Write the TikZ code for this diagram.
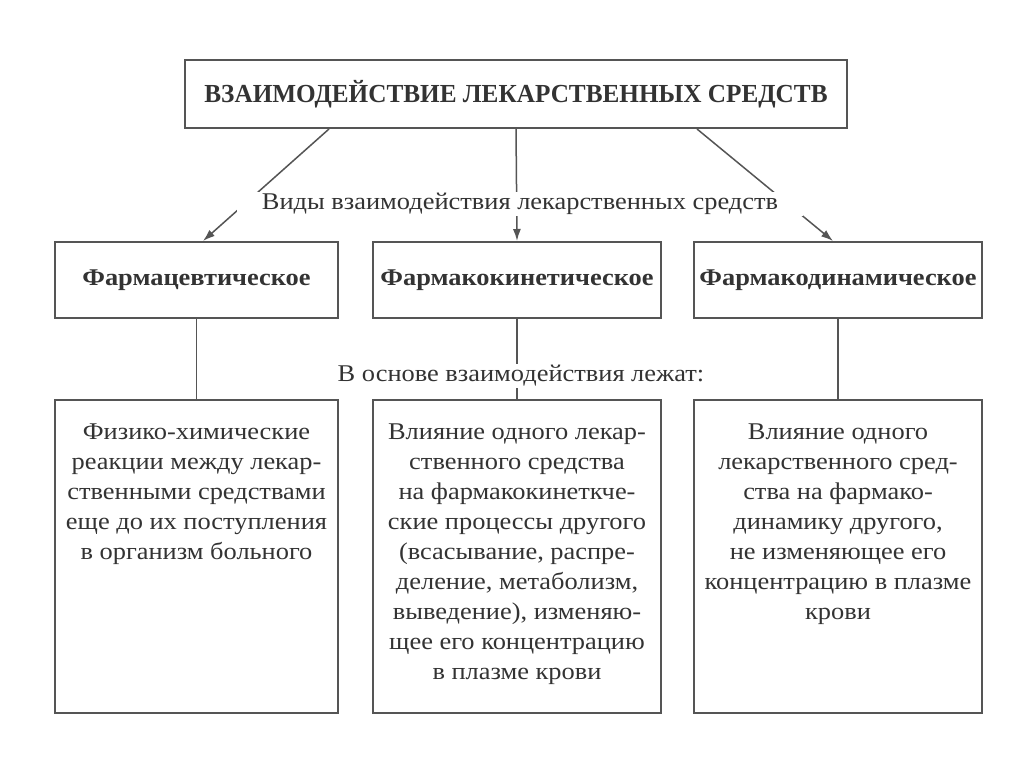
\documentclass[tikz,border=0pt]{standalone}
\usepackage{fontspec}
\setmainfont{Liberation Serif}[FakeStretch=1.1]
\newfontfamily\headfont{Liberation Serif}[FakeStretch=0.97]
\usetikzlibrary{arrows.meta, positioning}
\definecolor{Ink}{HTML}{333333}
\definecolor{Line}{HTML}{555555}

\begin{document}
\begin{tikzpicture}[
  x=1pt, y=-1pt,
  font=\fontsize{24}{30}\selectfont, text=Ink,
  head/.style={draw=Line, line width=2pt, minimum width=662pt, minimum height=68pt, font=\headfont\fontsize{26}{30}\selectfont\bfseries},
  kind/.style={draw=Line, line width=2pt, minimum height=76pt, font=\fontsize{24}{30}\selectfont\bfseries},
  basis/.style={draw=Line, line width=2pt, minimum height=313pt},
  body/.style={align=center, anchor=north, inner sep=0pt},
  caption/.style={fill=white, inner xsep=25pt, inner ysep=1pt},
  arrow/.style={-{Latex[length=12pt, width=8pt]}, line width=1.5pt, draw=Line},
  link/.style={line width=1.5pt, draw=Line}
]
\useasboundingbox[fill=white] (0,0) rectangle (1024,767);

\node[head] (title) at (516,94) {ВЗАИМОДЕЙСТВИЕ ЛЕКАРСТВЕННЫХ СРЕДСТВ};

\node[kind, minimum width=283pt] (pharm) at (196.5,280) {Фармацевтическое};
\node[kind, minimum width=288pt] (kinet) at (517,280) {Фармакокинетическое};
\node[kind, minimum width=288pt] (dynam) at (838,280) {Фармакодинамическое};

\node[basis, minimum width=283pt] (bpharm) at (196.5,556.5) {};
\node[basis, minimum width=288pt] (bkinet) at (517,556.5) {};
\node[basis, minimum width=288pt] (bdynam) at (838,556.5) {};

\node[body] (tpharm) at ([yshift=-25pt]bpharm.north) {Физико-химические\\реакции между лекар-\\ственными средствами\\еще до их поступления\\в организм больного};
\node[body] (tkinet) at ([yshift=-25pt]bkinet.north) {Влияние одного лекар-\\ственного средства\\на фармакокинеткче-\\ские процессы другого\\(всасывание, распре-\\деление, метаболизм,\\выведение), изменяю-\\щее его концентрацию\\в плазме крови};
\node[body] (tdynam) at ([yshift=-25pt]bdynam.north) {Влияние одного\\лекарственного сред-\\ства на фармако-\\динамику другого,\\не изменяющее его\\концентрацию в плазме\\крови};

\draw[arrow] ([xshift=-187pt]title.south) -- ([xshift=6.5pt]pharm.north);
\draw[arrow] (title.south) -- (kinet.north);
\draw[arrow] ([xshift=181pt]title.south) -- ([xshift=-5pt]dynam.north);
\node[caption] (kinds) at (520,204) {Виды взаимодействия лекарственных средств};

\draw[link] (pharm) -- (bpharm);
\draw[link] (kinet) -- (bkinet);
\draw[link] (dynam) -- (bdynam);
\node[caption, inner xsep=1pt] (ground) at (521,376) {В основе взаимодействия лежат:};
\end{tikzpicture}
\end{document}
